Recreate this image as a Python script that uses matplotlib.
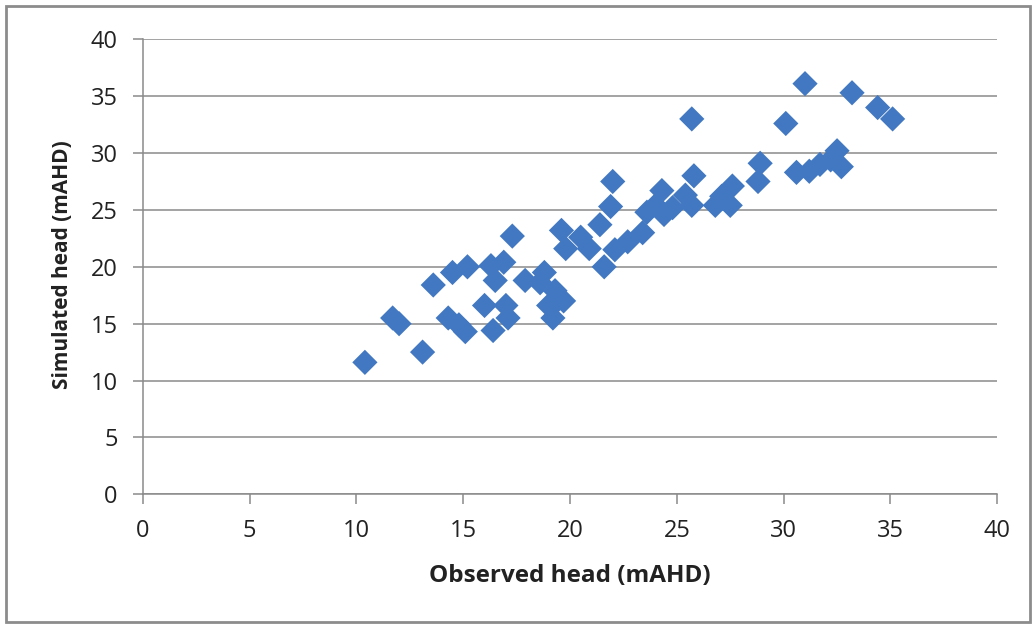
import matplotlib
matplotlib.use("Agg")
import matplotlib.pyplot as plt
from matplotlib.patches import Rectangle

observed = [10.4, 11.7, 12.0, 13.1, 13.6, 14.3, 14.5, 14.8, 15.1, 15.2,
            16.0, 16.3, 16.4, 16.5, 16.9, 17.0, 17.1, 17.3, 17.9, 18.6,
            18.8, 19.0, 19.2, 19.4, 19.3, 19.6, 19.8, 19.7, 20.5, 20.9,
            21.4, 21.6, 21.9, 22.0, 22.1, 22.7, 23.4, 23.6, 24.0, 24.3,
            24.4, 24.8, 25.4, 25.7, 25.7, 25.8, 26.8, 27.1, 27.5, 27.6,
            28.8, 28.9, 30.1, 30.6, 31.0, 31.2, 31.7, 32.2, 32.5, 32.7,
            33.2, 34.4, 35.1]
simulated = [11.6, 15.5, 15.0, 12.5, 18.4, 15.5, 19.5, 14.9, 14.3, 20.0,
             16.6, 20.1, 14.4, 18.8, 20.4, 16.6, 15.5, 22.7, 18.8, 18.6,
             19.5, 16.6, 15.5, 17.0, 17.9, 23.2, 21.6, 17.0, 22.6, 21.6,
             23.7, 20.0, 25.3, 27.5, 21.5, 22.2, 23.0, 24.8, 25.4, 26.7,
             24.6, 25.2, 26.3, 33.0, 25.4, 28.0, 25.4, 26.2, 25.4, 27.1,
             27.5, 29.1, 32.6, 28.3, 36.1, 28.4, 29.0, 29.4, 30.2, 28.8,
             35.3, 34.0, 33.0]

x_ticks = [0, 5, 10, 15, 20, 25, 30, 35, 40]
y_ticks = [0, 5, 10, 15, 20, 25, 30, 35, 40]
x_label = "Observed head (mAHD)"
y_label = "Simulated head (mAHD)"

W, H = 1036, 626
fig = plt.figure(figsize=(W / 100, H / 100), dpi=100)
fig.patch.set_facecolor("white")

# outer chart border
fig.add_artist(Rectangle((6 / W, 4 / H), (W - 12) / W, (H - 10) / H,
                         transform=fig.transFigure, fill=False,
                         edgecolor="#8c8c8c", linewidth=2))

left, right = 142.7 / W, 997.3 / W
bottom, top = (H - 494.3) / H, (H - 39.3) / H
ax = fig.add_axes([left, bottom, right - left, top - bottom])

ax.scatter(observed, simulated, marker="D", s=165, color="#4178c1",
           edgecolors="none", zorder=3)

ax.set_xlim(0, 40)
ax.set_ylim(0, 40)
ax.set_xticks(x_ticks)
ax.set_yticks(y_ticks)

font = "Open Sans"
ax.set_xticklabels([str(t) for t in x_ticks], fontsize=17, family=font, color="#222222")
ax.set_yticklabels([str(t) for t in y_ticks], fontsize=17, family=font, color="#222222")

ax.yaxis.grid(True, color="#8a8a8a", linewidth=1.1)
ax.xaxis.grid(False)
ax.set_axisbelow(True)

for s in ["top", "right"]:
    ax.spines[s].set_visible(False)
for s in ["left", "bottom"]:
    ax.spines[s].set_color("#8a8a8a")
    ax.spines[s].set_linewidth(1.1)

ax.tick_params(axis="x", direction="out", length=7, width=1.1, color="#8a8a8a", pad=11)
ax.tick_params(axis="y", direction="out", length=7, width=1.1, color="#8a8a8a", pad=11)

fig.text(570 / W, 1 - 576 / H, x_label, ha="center", va="center",
         fontsize=17.5, fontweight="bold", family=font, color="#222222")
fig.text(62 / W, 1 - 265 / H, y_label, ha="center", va="center", rotation=90,
         fontsize=15, fontweight="bold", family=font, color="#222222")

fig.savefig("out.png", dpi=100, facecolor="white")
